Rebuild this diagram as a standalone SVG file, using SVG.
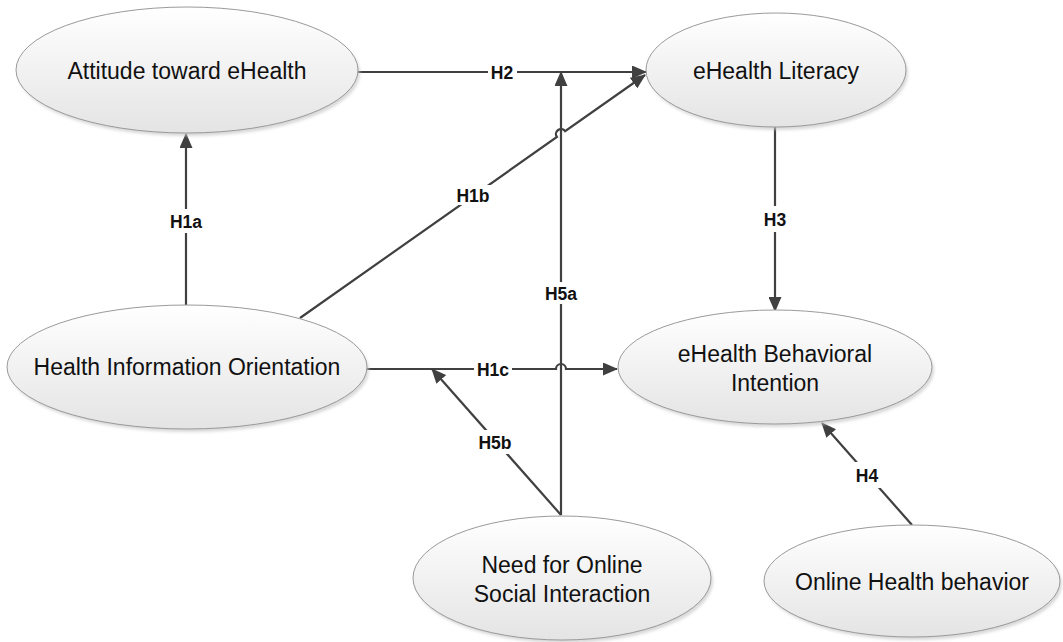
<svg xmlns="http://www.w3.org/2000/svg" width="1063" height="642" viewBox="0 0 1063 642">
<defs>
<linearGradient id="fillG" x1="0" y1="0" x2="0" y2="1">
<stop offset="0" stop-color="#ffffff"/>
<stop offset="1" stop-color="#e4e4e4"/>
</linearGradient>
<filter id="shadow" x="-10%" y="-10%" width="120%" height="130%">
<feGaussianBlur stdDeviation="1.5"/>
</filter>
<marker id="arrow" markerUnits="userSpaceOnUse" markerWidth="15" markerHeight="13" refX="14" refY="6.5" orient="auto">
<path d="M0,0 L15,6.5 L0,13 Z" fill="#404040"/>
</marker>
</defs>
<style>
.shadow{fill:#c8c8c8;opacity:0.7;filter:url(#shadow);}
.node{fill:url(#fillG);stroke:#9a9a9a;stroke-width:1;}
.ntext{font-family:"Liberation Sans",Arial,sans-serif;font-size:23px;fill:#111111;text-anchor:middle;}
.edge{fill:none;stroke:#404040;stroke-width:2.2;}
.arr{marker-end:url(#arrow);}
.lbg{fill:#ffffff;}
.ltext{font-family:"Liberation Sans",Arial,sans-serif;font-size:17.5px;font-weight:bold;fill:#111111;text-anchor:middle;}
</style>
<rect width="1063" height="642" fill="#ffffff"/>

<g id="connectors">
<path id="e-H2" class="edge arr" d="M358,72 L646,72"/>
<path id="e-H1b" class="edge arr" d="M300,318 L556.9,137 A5,5 0 0 1 565.1,131.2 L645,75"/>
<path id="e-H1a" class="edge arr" d="M186,305 L186,134"/>
<path id="e-H3" class="edge arr" d="M775,127 L775,311"/>
<path id="e-H1c" class="edge arr" d="M367,369 L556,369 A5,5 0 0 1 566,369 L617,369"/>
<path id="e-H5a" class="edge arr" d="M561,515 L561,72"/>
<path id="e-H5b" class="edge arr" d="M561,515 L432,369"/>
<path id="e-H4" class="edge arr" d="M912,525 L822,423"/>
<g id="labels">
<rect class="lbg" x="488" y="63" width="29" height="18"/>
<text class="ltext" x="502" y="79">H2</text>
<rect class="lbg" x="455" y="185" width="36" height="20"/>
<text class="ltext" x="473" y="201.5">H1b</text>
<rect class="lbg" x="167" y="209" width="38" height="24"/>
<text class="ltext" x="186" y="227.5">H1a</text>
<rect class="lbg" x="761" y="206" width="28" height="26"/>
<text class="ltext" x="775" y="226">H3</text>
<rect class="lbg" x="543" y="282" width="36" height="22"/>
<text class="ltext" x="561" y="299.5">H5a</text>
<rect class="lbg" x="474" y="360" width="38" height="18"/>
<text class="ltext" x="493" y="375.5">H1c</text>
<rect class="lbg" x="476" y="430" width="38" height="24"/>
<text class="ltext" x="495" y="448.5">H5b</text>
<rect class="lbg" x="853" y="462" width="28" height="26"/>
<text class="ltext" x="867" y="481.5">H4</text>
</g>
</g>

<g id="n-attitude">
<ellipse class="shadow" cx="189" cy="73" rx="171" ry="63"/>
<ellipse class="node" cx="187" cy="70" rx="171" ry="63"/>
<text class="ntext" x="187" y="79">Attitude toward eHealth</text>
</g>
<g id="n-literacy">
<ellipse class="shadow" cx="778" cy="73" rx="130" ry="57"/>
<ellipse class="node" cx="776" cy="70" rx="130" ry="57"/>
<text class="ntext" x="776" y="79">eHealth Literacy</text>
</g>
<g id="n-hio">
<ellipse class="shadow" cx="189" cy="370" rx="180" ry="62"/>
<ellipse class="node" cx="187" cy="367" rx="180" ry="62"/>
<text class="ntext" x="187" y="375">Health Information Orientation</text>
</g>
<g id="n-intention">
<ellipse class="shadow" cx="777" cy="370" rx="157" ry="57"/>
<ellipse class="node" cx="775" cy="367" rx="157" ry="57"/>
<text class="ntext" x="775" y="362">eHealth Behavioral</text>
<text class="ntext" x="775" y="391">Intention</text>
</g>
<g id="n-need">
<ellipse class="shadow" cx="564" cy="581" rx="149" ry="62"/>
<ellipse class="node" cx="562" cy="578" rx="149" ry="62"/>
<text class="ntext" x="562" y="573">Need for Online</text>
<text class="ntext" x="562" y="602">Social Interaction</text>
</g>
<g id="n-online">
<ellipse class="shadow" cx="914" cy="584" rx="148" ry="56"/>
<ellipse class="node" cx="912" cy="581" rx="148" ry="56"/>
<text class="ntext" x="912" y="590">Online Health behavior</text>
</g>
</svg>
